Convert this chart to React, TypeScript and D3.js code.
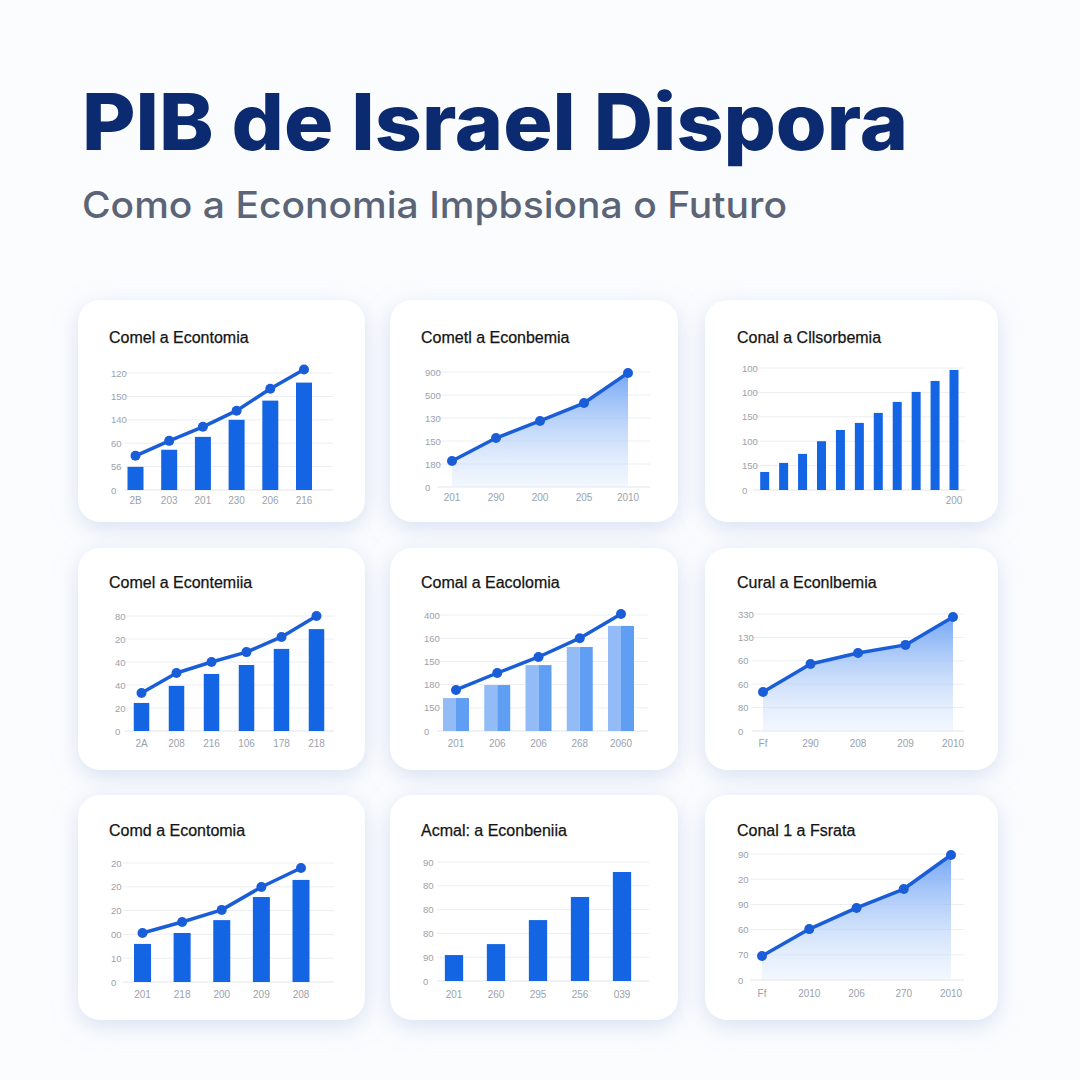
import React from "react";
import * as d3 from "d3";

// ---------- DATA ----------
const mainTitle = "PIB de Israel Dispora";
const subTitle = "Como a Economia Impbsiona o Futuro";

const c1Title = "Comel a Econtomia";
const c1YTicks = ["0", "56", "60", "140", "150", "120"];
const c1XLabels = ["2B", "203", "201", "230", "206", "216"];
const c1Bars = [0.99, 1.72, 2.27, 3.0, 3.82, 4.59];
const c1Line = [1.46, 2.1, 2.7, 3.39, 4.33, 5.15];

const c2Title = "Cometl a Econbemia";
const c2YTicks = ["0", "180", "150", "130", "500", "900"];
const c2XLabels = ["201", "290", "200", "205", "2010"];
const c2Area = [1.13, 2.13, 2.87, 3.65, 4.96];

const c3Title = "Conal a Cllsorbemia";
const c3YTicks = ["0", "150", "100", "150", "100", "100"];
const c3XLabels = ["", "", "", "", "", "", "", "", "", "", "200"];
const c3Bars = [0.74, 1.11, 1.48, 2.0, 2.46, 2.75, 3.16, 3.61, 4.02, 4.47, 4.92];

const c4Title = "Comel a Econtemiia";
const c4YTicks = ["0", "20", "40", "40", "20", "80"];
const c4XLabels = ["2A", "208", "216", "106", "178", "218"];
const c4Bars = [1.22, 1.96, 2.48, 2.87, 3.57, 4.43];
const c4Line = [1.65, 2.52, 3.0, 3.43, 4.09, 5.0];

const c5Title = "Comal a Eacolomia";
const c5YTicks = ["0", "150", "180", "150", "160", "400"];
const c5XLabels = ["201", "206", "206", "268", "2060"];
const c5Bars = [1.42, 1.98, 2.84, 3.62, 4.53];
const c5Line = [1.77, 2.5, 3.19, 4.0, 5.04];

const c6Title = "Cural a Econlbemia";
const c6YTicks = ["0", "80", "60", "60", "130", "330"];
const c6XLabels = ["Ff", "290", "208", "209", "2010"];
const c6Area = [1.67, 2.86, 3.33, 3.68, 4.87];

const c7Title = "Comd a Econtomia";
const c7YTicks = ["0", "10", "00", "20", "20", "20"];
const c7XLabels = ["201", "218", "200", "209", "208"];
const c7Bars = [1.6, 2.06, 2.6, 3.57, 4.29];
const c7Line = [2.06, 2.52, 3.03, 3.99, 4.79];

const c8Title = "Acmal: a Econbeniia";
const c8YTicks = ["0", "90", "80", "80", "80", "90"];
const c8XLabels = ["201", "260", "295", "256", "039"];
const c8Bars = [1.09, 1.55, 2.56, 3.53, 4.58];

const c9Title = "Conal 1 a Fsrata";
const c9YTicks = ["0", "70", "60", "90", "20", "90"];
const c9XLabels = ["Ff", "2010", "206", "270", "2010"];
const c9Area = [0.95, 2.02, 2.86, 3.61, 4.96];

// ---------- LAYOUT / STYLE ----------
const BAR = "#1465e4";
const LINE = "#195ed8";
const GRID = "#eceef2";
const TICK = "#9ba2ac";
const FONT = "'Liberation Sans', Arial, sans-serif";

type Card = {
  title: string;
  yTicks: string[];
  xLabels: string[];
  bars?: number[];
  line?: number[];
  area?: number[];
  twoTone?: boolean;
  card: [number, number, number, number];
  titleX: number;
  titleY: number;
  gx: [number, number];
  gy: [number, number]; // [top, base]
  px: [number, number];
  barW: number;
  labelX: number;
  xLabelY: number;
};

const cards: Card[] = [
  { title: c1Title, yTicks: c1YTicks, xLabels: c1XLabels, bars: c1Bars, line: c1Line,
    card: [78, 300, 287, 222], titleX: 109, titleY: 343, gx: [125, 333], gy: [373, 490], px: [135.5, 304], barW: 16, labelX: 111, xLabelY: 504 },
  { title: c2Title, yTicks: c2YTicks, xLabels: c2XLabels, area: c2Area,
    card: [390, 300, 288, 222], titleX: 421, titleY: 343, gx: [437, 650], gy: [372, 487], px: [452, 628], barW: 0, labelX: 425, xLabelY: 501 },
  { title: c3Title, yTicks: c3YTicks, xLabels: c3XLabels, bars: c3Bars,
    card: [705, 300, 293, 222], titleX: 737, titleY: 343, gx: [753, 965], gy: [368, 490], px: [764.7, 954], barW: 9, labelX: 742, xLabelY: 504 },
  { title: c4Title, yTicks: c4YTicks, xLabels: c4XLabels, bars: c4Bars, line: c4Line,
    card: [78, 548, 287, 222], titleX: 109, titleY: 588, gx: [125, 334], gy: [616, 731], px: [141.5, 316.5], barW: 15.5, labelX: 115, xLabelY: 747 },
  { title: c5Title, yTicks: c5YTicks, xLabels: c5XLabels, bars: c5Bars, line: c5Line, twoTone: true,
    card: [390, 548, 288, 222], titleX: 421, titleY: 588, gx: [437, 648], gy: [615, 731], px: [456, 621], barW: 26, labelX: 424, xLabelY: 747 },
  { title: c6Title, yTicks: c6YTicks, xLabels: c6XLabels, area: c6Area,
    card: [705, 548, 293, 222], titleX: 737, titleY: 588, gx: [752, 964], gy: [614, 731], px: [763, 953], barW: 0, labelX: 738, xLabelY: 747 },
  { title: c7Title, yTicks: c7YTicks, xLabels: c7XLabels, bars: c7Bars, line: c7Line,
    card: [78, 795, 287, 225], titleX: 109, titleY: 836, gx: [123, 334], gy: [863, 982], px: [142.5, 301], barW: 17, labelX: 111, xLabelY: 998 },
  { title: c8Title, yTicks: c8YTicks, xLabels: c8XLabels, bars: c8Bars,
    card: [390, 795, 288, 225], titleX: 421, titleY: 836, gx: [437, 649], gy: [862, 981], px: [454, 622], barW: 18.3, labelX: 423, xLabelY: 998 },
  { title: c9Title, yTicks: c9YTicks, xLabels: c9XLabels, area: c9Area,
    card: [705, 795, 293, 225], titleX: 737, titleY: 836, gx: [750, 964], gy: [854, 980], px: [762, 951], barW: 0, labelX: 738, xLabelY: 997 },
];

function CardView({ c, i }: { c: Card; i: number }) {
  const n = c.xLabels.length;
  const x = d3.scalePoint<number>().domain(d3.range(n)).range(c.px);
  const y = d3.scaleLinear().domain([0, 5]).range([c.gy[1], c.gy[0]]);
  const ticks = d3.range(6);
  const [cx, cy, cw, ch] = c.card;
  const lineGen = d3.line<number>().x((_, k) => x(k)!).y((v) => y(v));
  const areaGen = d3.area<number>().x((_, k) => x(k)!).y0(y(0)).y1((v) => y(v));
  const gradId = `grad${i}`;
  return (
    <g>
      <rect x={cx} y={cy} width={cw} height={ch} rx={22} fill="#ffffff" filter="url(#shadow)" />
      <text x={c.titleX} y={c.titleY} fontFamily={FONT} fontSize={16} fill="#141414" stroke="#141414" strokeWidth={0.25}>
        {c.title}
      </text>
      {ticks.map((t) => (
        <g key={t}>
          <line x1={c.gx[0]} x2={c.gx[1]} y1={y(t)} y2={y(t)} stroke={t === 0 ? "#e2e5ea" : GRID} strokeWidth={1} />
          <text x={c.labelX} y={y(t) + 3.5} fontFamily={FONT} fontSize={9.5} fill={TICK}>
            {c.yTicks[t]}
          </text>
        </g>
      ))}
      {c.area && (
        <>
          <defs>
            <linearGradient id={gradId} x1="0" y1="0" x2="0" y2="1">
              <stop offset="0%" stopColor="#6ea3f4" stopOpacity={0.95} />
              <stop offset="100%" stopColor="#dde9fc" stopOpacity={0.35} />
            </linearGradient>
          </defs>
          <path d={areaGen(c.area)!} fill={`url(#${gradId})`} />
          <path d={lineGen(c.area)!} fill="none" stroke={LINE} strokeWidth={3.5} strokeLinejoin="round" />
          {c.area.map((v, k) => (
            <circle key={k} cx={x(k)} cy={y(v)} r={5} fill={LINE} />
          ))}
        </>
      )}
      {c.bars &&
        c.bars.map((v, k) =>
          c.twoTone ? (
            <g key={k}>
              <rect x={x(k)! - c.barW / 2} y={y(v)} width={c.barW / 2} height={y(0) - y(v)} fill="#93bcf6" />
              <rect x={x(k)!} y={y(v)} width={c.barW / 2} height={y(0) - y(v)} fill="#5f9ef2" />
            </g>
          ) : (
            <rect key={k} x={x(k)! - c.barW / 2} y={y(v)} width={c.barW} height={y(0) - y(v)} fill={BAR} />
          )
        )}
      {c.line && (
        <>
          <path d={lineGen(c.line)!} fill="none" stroke={LINE} strokeWidth={3.5} strokeLinejoin="round" />
          {c.line.map((v, k) => (
            <circle key={k} cx={x(k)} cy={y(v)} r={5} fill={LINE} />
          ))}
        </>
      )}
      {c.xLabels.map((l, k) => (
        <text key={k} x={x(k)} y={c.xLabelY} textAnchor="middle" fontFamily={FONT} fontSize={10} fill={TICK}>
          {l}
        </text>
      ))}
    </g>
  );
}

export default function App() {
  return (
    <svg width={1080} height={1080} style={{ position: "absolute", left: 0, top: 0 }} xmlns="http://www.w3.org/2000/svg">
      <defs>
        <filter id="shadow" x="-20%" y="-20%" width="140%" height="150%">
          <feDropShadow dx={0} dy={6} stdDeviation={11} floodColor="#b4c5e6" floodOpacity={0.5} />
        </filter>
      </defs>
      <rect width={1080} height={1080} fill="#fbfcfe" />
      <text x={82} y={150} fontFamily="Inter, 'Open Sans', sans-serif" fontWeight={800} fontSize={78} fill="#0b2a6f"
        textLength={826} lengthAdjust="spacingAndGlyphs">
        {mainTitle}
      </text>
      <text x={82} y={218} fontFamily="Inter, 'Open Sans', sans-serif" fontWeight={500} fontSize={37} fill="#5b6577"
        textLength={705} lengthAdjust="spacingAndGlyphs">
        {subTitle}
      </text>
      {cards.map((c, i) => (
        <CardView key={i} c={c} i={i} />
      ))}
    </svg>
  );
}
